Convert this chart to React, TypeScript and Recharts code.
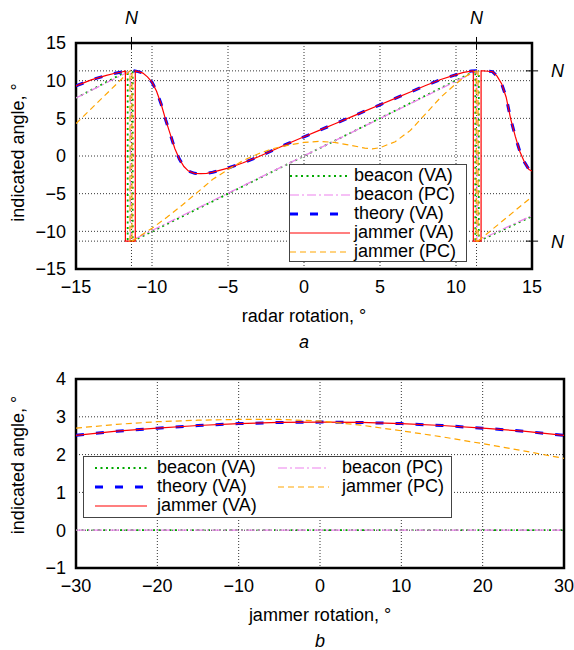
import React from 'react';
import { LineChart, Line, XAxis, YAxis, CartesianGrid, ReferenceLine, ReferenceArea, Legend } from 'recharts';

const FONT = '"Liberation Sans", Arial, Helvetica, sans-serif';

// panel a: indicated angle vs radar rotation
const radarTicks = [-15, -10, -5, 0, 5, 10, 15];
const angleTicksA = [-15, -10, -5, 0, 5, 10, 15];
const nRotation = 11.35; // N marks where the indicated angle wraps
const nAngle = 11.3;

// null = pen up between the two sides of a wrap
const beaconVaA = [
  { x: -15, y: 7.7 }, { x: -11.6, y: 11.3 }, { x: -11.6, y: -11.3 }, { x: -11.27, y: -11.3 },
  { x: -11.27, y: 11.3 }, { x: -11.27, y: null }, { x: -11.27, y: -11.3 }, { x: 11.27, y: 11.3 },
  { x: 11.27, y: -11.3 }, { x: 11.5, y: -11.3 }, { x: 11.5, y: 11.3 }, { x: 11.5, y: null },
  { x: 11.5, y: -11.3 }, { x: 15, y: -8.0 },
];

const beaconPcA = [
  { x: -15, y: 7.7 }, { x: -11.42, y: 11.3 }, { x: -11.42, y: -11.3 },
  { x: 11.38, y: 11.3 }, { x: 11.38, y: -11.3 }, { x: 15, y: -7.9 },
];

const theoryVaA = [
  { x: -15, y: 9.3 }, { x: -14.5, y: 9.7 }, { x: -14, y: 10.1 }, { x: -13.5, y: 10.4 },
  { x: -13, y: 10.7 }, { x: -12.5, y: 10.95 }, { x: -12, y: 11.15 }, { x: -11.5, y: 11.3 },
  { x: -11.2, y: 11.32 }, { x: -10.9, y: 11.2 }, { x: -10.6, y: 11.0 }, { x: -10.3, y: 10.5 },
  { x: -10, y: 9.8 }, { x: -9.7, y: 8.6 }, { x: -9.4, y: 6.9 }, { x: -9.1, y: 4.8 },
  { x: -8.8, y: 2.9 }, { x: -8.5, y: 1.0 }, { x: -8.2, y: -0.4 }, { x: -7.9, y: -1.4 },
  { x: -7.6, y: -2.0 }, { x: -7.2, y: -2.3 }, { x: -6.8, y: -2.35 }, { x: -6.4, y: -2.3 },
  { x: -6, y: -2.15 }, { x: -5, y: -1.6 }, { x: -4, y: -0.9 }, { x: -3, y: -0.1 },
  { x: -2, y: 0.8 }, { x: -1, y: 1.7 }, { x: 0, y: 2.55 }, { x: 1, y: 3.4 },
  { x: 2, y: 4.25 }, { x: 3, y: 5.1 }, { x: 4, y: 5.95 }, { x: 5, y: 6.8 },
  { x: 6, y: 7.65 }, { x: 7, y: 8.5 }, { x: 8, y: 9.35 }, { x: 9, y: 10.15 },
  { x: 10, y: 10.8 }, { x: 10.5, y: 11.1 }, { x: 11, y: 11.27 }, { x: 11.4, y: 11.33 },
  { x: 11.8, y: 11.3 }, { x: 12.1, y: 11.25 }, { x: 12.4, y: 11.2 }, { x: 12.7, y: 10.6 },
  { x: 13, y: 9.6 }, { x: 13.3, y: 7.8 }, { x: 13.6, y: 4.9 }, { x: 13.9, y: 2.6 },
  { x: 14.2, y: 0.6 }, { x: 14.5, y: -0.8 }, { x: 14.8, y: -1.8 }, { x: 15, y: -2.0 },
];

const jammerVaA = [
  { x: -15, y: 9.3 }, { x: -14.5, y: 9.7 }, { x: -14, y: 10.1 }, { x: -13.5, y: 10.4 },
  { x: -13, y: 10.7 }, { x: -12.5, y: 10.95 }, { x: -12, y: 11.15 }, { x: -11.75, y: 11.27 },
  { x: -11.75, y: -11.3 }, { x: -11.1, y: -11.3 }, { x: -11.1, y: 11.3 },
  { x: -10.9, y: 11.2 }, { x: -10.6, y: 11.0 }, { x: -10.3, y: 10.5 },
  { x: -10, y: 9.8 }, { x: -9.7, y: 8.6 }, { x: -9.4, y: 6.9 }, { x: -9.1, y: 4.8 },
  { x: -8.8, y: 2.9 }, { x: -8.5, y: 1.0 }, { x: -8.2, y: -0.4 }, { x: -7.9, y: -1.4 },
  { x: -7.6, y: -2.0 }, { x: -7.2, y: -2.3 }, { x: -6.8, y: -2.35 }, { x: -6.4, y: -2.3 },
  { x: -6, y: -2.15 }, { x: -5, y: -1.6 }, { x: -4, y: -0.9 }, { x: -3, y: -0.1 },
  { x: -2, y: 0.8 }, { x: -1, y: 1.7 }, { x: 0, y: 2.55 }, { x: 1, y: 3.4 },
  { x: 2, y: 4.25 }, { x: 3, y: 5.1 }, { x: 4, y: 5.95 }, { x: 5, y: 6.8 },
  { x: 6, y: 7.65 }, { x: 7, y: 8.5 }, { x: 8, y: 9.35 }, { x: 9, y: 10.15 },
  { x: 10, y: 10.8 }, { x: 10.5, y: 11.1 }, { x: 11, y: 11.27 }, { x: 11.14, y: 11.3 },
  { x: 11.14, y: -11.3 }, { x: 11.65, y: -11.3 }, { x: 11.65, y: 11.3 },
  { x: 11.8, y: 11.3 }, { x: 12.1, y: 11.25 }, { x: 12.4, y: 11.2 }, { x: 12.7, y: 10.6 },
  { x: 13, y: 9.6 }, { x: 13.3, y: 7.8 }, { x: 13.6, y: 4.9 }, { x: 13.9, y: 2.6 },
  { x: 14.2, y: 0.6 }, { x: 14.5, y: -0.8 }, { x: 14.8, y: -1.8 }, { x: 15, y: -2.0 },
];

const jammerPcA = [
  { x: -15, y: 4.3 }, { x: -13.2, y: 7.85 }, { x: -11.45, y: 11.3 }, { x: -11.45, y: -11.3 },
  { x: -11.32, y: -11.3 }, { x: -11.32, y: 11.3 }, { x: -11.32, y: null }, { x: -11.32, y: -11.3 },
  { x: -10, y: -9.6 }, { x: -9, y: -8.1 }, { x: -8, y: -6.5 }, { x: -7, y: -4.8 },
  { x: -6, y: -3.1 }, { x: -5, y: -1.8 }, { x: -4, y: -0.6 }, { x: -3, y: 0.3 },
  { x: -2, y: 1.0 }, { x: -1, y: 1.45 }, { x: 0, y: 1.8 }, { x: 1, y: 1.95 },
  { x: 2, y: 1.8 }, { x: 3, y: 1.45 }, { x: 4, y: 1.05 }, { x: 4.5, y: 0.95 },
  { x: 5, y: 1.1 }, { x: 6, y: 1.9 }, { x: 7, y: 3.4 }, { x: 8, y: 5.6 },
  { x: 9, y: 7.8 }, { x: 10, y: 9.6 }, { x: 10.5, y: 10.4 }, { x: 11, y: 11.0 },
  { x: 11.33, y: 11.3 }, { x: 11.33, y: -11.3 }, { x: 11.45, y: -11.3 }, { x: 11.45, y: 11.3 },
  { x: 11.45, y: null }, { x: 11.45, y: -11.3 }, { x: 15, y: -5.4 },
];

// panel b: indicated angle vs jammer rotation
const jammerRotation = [-30, -25, -20, -15, -10, -5, 0, 5, 10, 15, 20, 25, 30];
const beaconVaB = [0, 0, 0, 0, 0, 0, 0, 0, 0, 0, 0, 0, 0];
const beaconPcB = [0, 0, 0, 0, 0, 0, 0, 0, 0, 0, 0, 0, 0];
const theoryVaB = [2.51, 2.62, 2.7, 2.77, 2.82, 2.85, 2.86, 2.85, 2.82, 2.77, 2.7, 2.62, 2.51];
const jammerVaB = [2.51, 2.62, 2.7, 2.77, 2.82, 2.85, 2.86, 2.85, 2.82, 2.77, 2.7, 2.62, 2.51];
const jammerPcB = [2.7, 2.8, 2.87, 2.91, 2.93, 2.93, 2.89, 2.78, 2.63, 2.47, 2.29, 2.1, 1.9];
const rotationTicksB = [-30, -20, -10, 0, 10, 20, 30];
const angleTicksB = [-1, 0, 1, 2, 3, 4];

const rowsB = jammerRotation.map((x, i) => ({
  x,
  beaconVa: beaconVaB[i],
  beaconPc: beaconPcB[i],
  theoryVa: theoryVaB[i],
  jammerVa: jammerVaB[i],
  jammerPc: jammerPcB[i],
}));

const styles: Record<string, any> = {
  beaconVa: { stroke: '#00a800', strokeWidth: 1.8, strokeDasharray: '2 3.5' },
  beaconPc: { stroke: '#ee82ee', strokeWidth: 1.2, strokeDasharray: '9 3 2 3' },
  theoryVa: { stroke: '#0000ff', strokeWidth: 3, strokeDasharray: '8 12' },
  jammerVa: { stroke: '#ff0000', strokeWidth: 1.2 },
  jammerPc: { stroke: '#ffa500', strokeWidth: 1.2, strokeDasharray: '6 4' },
};

const labels: Record<string, string> = {
  beaconVa: 'beacon (VA)',
  beaconPc: 'beacon (PC)',
  theoryVa: 'theory (VA)',
  jammerVa: 'jammer (VA)',
  jammerPc: 'jammer (PC)',
};

const minus = (v: number) => (v < 0 ? `\u2212${Math.abs(v)}` : `${v}`);
const tickStyle = { fill: '#000', fontSize: 18, fontFamily: FONT };

const Sample = ({ k, width }: { k: string; width: number }) => (
  <svg width={width} height={19} style={{ display: 'block', flex: 'none' }}>
    <line x1={0} x2={width} y1={10} y2={10} {...styles[k]} />
  </svg>
);

const LegendA = () => (
  <div style={{ width: 178, height: 98, boxSizing: 'border-box', border: '1.5px solid #444', background: '#fff', paddingTop: 1, fontFamily: FONT, fontSize: 18, lineHeight: '19px', color: '#000' }}>
    {['beaconVa', 'beaconPc', 'theoryVa', 'jammerVa', 'jammerPc'].map((k) => (
      <div key={k} style={{ display: 'flex', alignItems: 'center', height: 19 }}>
        <Sample k={k} width={60} />
        <span style={{ marginLeft: 4, whiteSpace: 'nowrap' }}>{labels[k]}</span>
      </div>
    ))}
  </div>
);

const LegendB = () => {
  const cols = [
    { keys: ['beaconVa', 'theoryVa', 'jammerVa'], left: 11, sample: 52, gap: 10 },
    { keys: ['beaconPc', 'jammerPc'], left: 194, sample: 51, gap: 13 },
  ];
  return (
    <div style={{ position: 'relative', width: 369, height: 62, boxSizing: 'border-box', border: '1.5px solid #444', background: '#fff', fontFamily: FONT, fontSize: 18, lineHeight: '19px', color: '#000' }}>
      {cols.map((c, ci) => (
        <div key={ci} style={{ position: 'absolute', left: c.left, top: 1 }}>
          {c.keys.map((k) => (
            <div key={k} style={{ display: 'flex', alignItems: 'center', height: 19 }}>
              <Sample k={k} width={c.sample} />
              <span style={{ marginLeft: c.gap, whiteSpace: 'nowrap' }}>{labels[k]}</span>
            </div>
          ))}
        </div>
      ))}
    </div>
  );
};

const yTitle = (dy: number) => (props: any) => {
  const vb = props.viewBox;
  const cx = vb.x + 8;
  const cy = vb.y + vb.height / 2 + dy;
  return (
    <text x={cx} y={cy} transform={`rotate(-90 ${cx} ${cy})`} textAnchor="middle" fill="#000" fontSize={18} fontFamily={FONT}>
      indicated angle, °
    </text>
  );
};

const xTitle = (title: string, tag: string) => (props: any) => {
  const vb = props.viewBox;
  const cx = vb.x + vb.width / 2;
  const y = vb.y + vb.height;
  return (
    <g fill="#000" fontSize={18} fontFamily={FONT} textAnchor="middle">
      <text x={cx} y={y + 23}>{title}</text>
      <text x={cx} y={y + 49} fontStyle="italic">{tag}</text>
    </g>
  );
};

const nLabel = (position: 'top' | 'right', offset: number) => ({
  value: 'N', position, offset, fill: '#000', fontSize: 18, fontFamily: FONT, fontStyle: 'italic',
});

const gridDash = '1 2';

const series = (data: any, key: string, k: string) => (
  <Line key={k} data={data} type="linear" dataKey={key} dot={false} activeDot={false} isAnimationActive={false} {...styles[k]} />
);

// gnuplot-style inward tick marks on all four sides
const innerTicks = (xDomain: number[], xTicks: number[], yDomain: number[], yTicks: number[]) => [
  <XAxis key="tb" xAxisId="tb" orientation="bottom" mirror type="number" domain={xDomain} ticks={xTicks} height={0} tick={false} axisLine={false} tickSize={6} stroke="#000" />,
  <XAxis key="tt" xAxisId="tt" orientation="top" mirror type="number" domain={xDomain} ticks={xTicks} height={0} tick={false} axisLine={false} tickSize={6} stroke="#000" />,
  <YAxis key="tl" yAxisId="tl" orientation="left" mirror type="number" domain={yDomain} ticks={yTicks} width={0} tick={false} axisLine={false} tickSize={6} stroke="#000" />,
  <YAxis key="tr" yAxisId="tr" orientation="right" mirror type="number" domain={yDomain} ticks={yTicks} width={0} tick={false} axisLine={false} tickSize={6} stroke="#000" />,
];

export default function App() {
  return (
    <div style={{ position: 'absolute', left: 0, top: 0, width: 574, height: 650, background: '#fff' }}>
      <LineChart width={574} height={360} margin={{ top: 43, right: 42, left: 16, bottom: 61 }}>
        <CartesianGrid stroke="#000" strokeDasharray={gridDash} strokeWidth={0.8} />
        <XAxis dataKey="x" type="number" domain={[-15, 15]} ticks={radarTicks} allowDataOverflow height={30}
          axisLine={false} tickLine={false} tickMargin={5} tick={tickStyle} tickFormatter={minus}
          label={xTitle('radar rotation, °', 'a')} />
        <YAxis type="number" domain={[-15, 15]} ticks={angleTicksA} allowDataOverflow width={60}
          axisLine={false} tickLine={false} tickMargin={4} tick={tickStyle} tickFormatter={minus}
          label={yTitle(-3.5)} />
        {innerTicks([-15, 15], radarTicks, [-15, 15], angleTicksA)}
        {[-nRotation, nRotation].map((v) => (
          <ReferenceLine key={`vx${v}`} x={v} stroke="#000" strokeDasharray={gridDash} strokeWidth={0.8} />
        ))}
        {[-nAngle, nAngle].map((v) => (
          <ReferenceLine key={`hy${v}`} y={v} stroke="#000" strokeDasharray={gridDash} strokeWidth={0.8} />
        ))}
        {[-nRotation, nRotation].map((v) => (
          <ReferenceLine key={`nx${v}`} segment={[{ x: v, y: 14.2 }, { x: v, y: 15.8 }]} ifOverflow="visible" stroke="#000" label={nLabel('top', 13)} />
        ))}
        {[-nAngle, nAngle].map((v) => (
          <ReferenceLine key={`ny${v}`} segment={[{ x: 14.6, y: v }, { x: 15.4, y: v }]} ifOverflow="visible" stroke="#000" label={nLabel('right', 13)} />
        ))}
        <ReferenceArea x1={-15} x2={15} y1={-15} y2={15} fill="none" stroke="#000" strokeWidth={2.5} />
        {series(beaconVaA, 'y', 'beaconVa')}
        {series(beaconPcA, 'y', 'beaconPc')}
        {series(theoryVaA, 'y', 'theoryVa')}
        {series(jammerVaA, 'y', 'jammerVa')}
        {series(jammerPcA, 'y', 'jammerPc')}
        <Legend layout="vertical" align="center" verticalAlign="middle" content={() => <LegendA />}
          wrapperStyle={{ left: 289, top: 164, width: 178, height: 98 }} />
      </LineChart>
      <div style={{ position: 'absolute', left: 0, top: 360 }}>
        <LineChart width={574} height={290} data={rowsB} margin={{ top: 19, right: 10, left: 16, bottom: 52 }}>
          <CartesianGrid stroke="#000" strokeDasharray={gridDash} strokeWidth={0.8} />
          <XAxis dataKey="x" type="number" domain={[-30, 30]} ticks={rotationTicksB} allowDataOverflow height={30}
            axisLine={false} tickLine={false} tickMargin={5} tick={tickStyle} tickFormatter={minus}
            label={xTitle('jammer rotation, °', 'b')} />
          <YAxis type="number" domain={[-1, 4]} ticks={angleTicksB} allowDataOverflow width={60}
            axisLine={false} tickLine={false} tickMargin={4} tick={tickStyle} tickFormatter={minus}
            label={yTitle(-8.5)} />
          {innerTicks([-30, 30], rotationTicksB, [-1, 4], angleTicksB)}
          <ReferenceArea x1={-30} x2={30} y1={-1} y2={4} fill="none" stroke="#000" strokeWidth={2.5} />
          {series(undefined, 'beaconVa', 'beaconVa')}
          {series(undefined, 'beaconPc', 'beaconPc')}
          {series(undefined, 'theoryVa', 'theoryVa')}
          {series(undefined, 'jammerVa', 'jammerVa')}
          {series(undefined, 'jammerPc', 'jammerPc')}
          <Legend layout="vertical" align="center" verticalAlign="middle" content={() => <LegendB />}
            wrapperStyle={{ left: 83, top: 96, width: 369, height: 62 }} />
        </LineChart>
      </div>
    </div>
  );
}
